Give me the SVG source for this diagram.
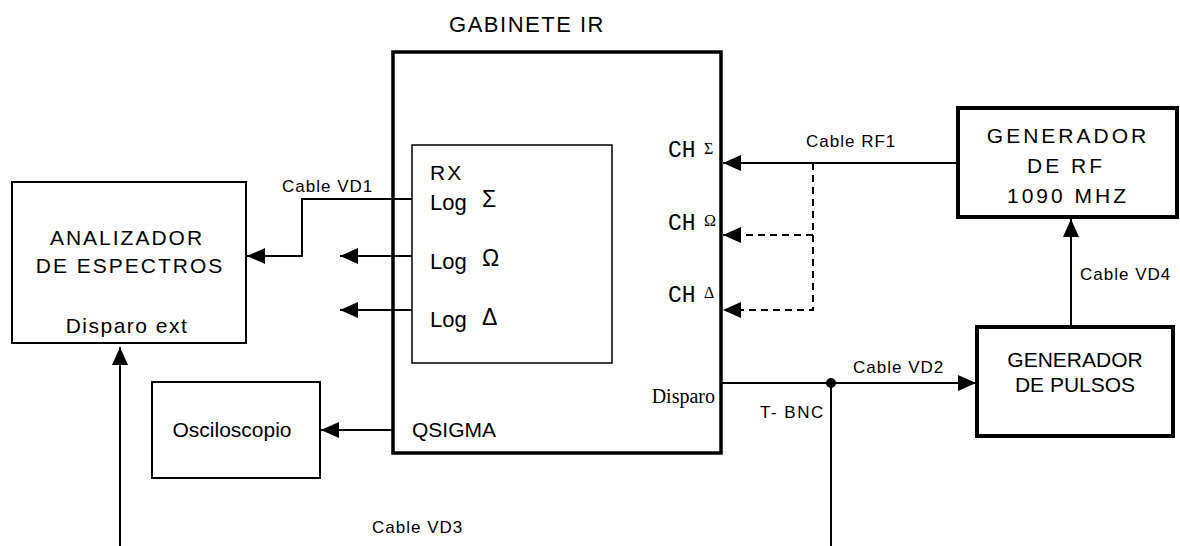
<svg xmlns="http://www.w3.org/2000/svg" width="1180" height="546" viewBox="0 0 1180 546">
<style>
.t{font-family:"Liberation Sans",Arial,sans-serif;fill:#000}
.big{font-size:21px}
.wide{letter-spacing:2px}
.cab{font-size:17px;letter-spacing:1px}
.mono{font-family:"Liberation Mono","Courier New",monospace;font-size:23px;fill:#000}
.ser{font-family:"Liberation Serif","Times New Roman",serif;fill:#000}
.box{fill:#fff;stroke:#000;stroke-width:2}
.thick{fill:#fff;stroke:#000;stroke-width:4}
.ln{fill:none;stroke:#000;stroke-width:2}
.dash{fill:none;stroke:#000;stroke-width:2;stroke-dasharray:7 5}
</style>
<defs>
<marker id="arr" viewBox="0 0 18 16" refX="18" refY="8" markerWidth="18" markerHeight="16" markerUnits="userSpaceOnUse" orient="auto">
<path d="M0,0 L18,8 L0,16 z" fill="#000"/>
</marker>
</defs>
<rect width="1180" height="546" fill="#fff"/>

<g id="gabinete">
<rect class="box" x="393" y="52" width="328" height="401" style="stroke-width:3.5"/>
<text class="t" x="527" y="32" font-size="22" text-anchor="middle" style="letter-spacing:1.5px">GABINETE IR</text>
<text class="mono" x="668" y="157">CH</text>
<text class="ser" x="704" y="154" font-size="16">Σ</text>
<text class="mono" x="668" y="230">CH</text>
<text class="ser" x="704" y="226" font-size="16">Ω</text>
<text class="mono" x="668" y="302">CH</text>
<text class="ser" x="704" y="298" font-size="16">Δ</text>
<text class="ser" x="715" y="403" font-size="20" text-anchor="end">Disparo</text>
<text class="t big" x="412" y="437">QSIGMA</text>
</g>

<g id="rx">
<rect class="box" x="412" y="145" width="200" height="218" style="stroke-width:1.5"/>
<text class="t big" x="430" y="180" style="letter-spacing:2px">RX</text>
<text class="t" x="430" y="210" font-size="22">Log</text>
<text class="t" x="482" y="207" font-size="23">Σ</text>
<text class="t" x="430" y="269" font-size="22">Log</text>
<text class="t" x="482" y="266" font-size="23">Ω</text>
<text class="t" x="430" y="327" font-size="22">Log</text>
<text class="t" x="482" y="325" font-size="23">Δ</text>
</g>

<g id="analizador">
<rect class="box" x="12" y="182" width="234" height="161"/>
<text class="t big wide" x="127" y="245" text-anchor="middle">ANALIZADOR</text>
<text class="t big wide" x="130" y="273" text-anchor="middle">DE ESPECTROS</text>
<text class="t big" x="127" y="333" text-anchor="middle" style="letter-spacing:1.5px">Disparo ext</text>
</g>

<g id="osciloscopio">
<rect class="box" x="152" y="382" width="168" height="96"/>
<text class="t big" x="232" y="437" text-anchor="middle">Osciloscopio</text>
</g>

<g id="generador-rf">
<rect class="thick" x="958" y="108" width="219" height="109"/>
<text class="t big" x="1068" y="143" text-anchor="middle" style="letter-spacing:3px">GENERADOR</text>
<text class="t big" x="1066" y="173" text-anchor="middle" style="letter-spacing:3px">DE RF</text>
<text class="t big" x="1068" y="203" text-anchor="middle" style="letter-spacing:3px">1090 MHZ</text>
</g>

<g id="generador-pulsos">
<rect class="thick" x="977" y="327" width="196" height="109"/>
<text class="t big" x="1075" y="367" text-anchor="middle">GENERADOR</text>
<text class="t big" x="1075" y="392" text-anchor="middle">DE PULSOS</text>
</g>

<g id="connectors">
<path class="ln" d="M412,199 H302 V256 H247" marker-end="url(#arr)"/>
<path class="ln" d="M412,256 H340" marker-end="url(#arr)"/>
<path class="ln" d="M412,310 H340" marker-end="url(#arr)"/>
<path class="ln" d="M392,430 H321" marker-end="url(#arr)"/>
<path class="ln" d="M120,546 V347" marker-end="url(#arr)"/>
<path class="ln" d="M958,163 H723" marker-end="url(#arr)"/>
<path class="dash" d="M813,163 V310 H723" marker-end="url(#arr)"/>
<path class="dash" d="M813,235 H723" marker-end="url(#arr)"/>
<path class="ln" d="M1071,327 V219" marker-end="url(#arr)"/>
<path class="ln" d="M721,383 H976" marker-end="url(#arr)"/>
<path class="ln" d="M831,383 V546"/>
<circle cx="831" cy="383" r="5" fill="#000"/>
<text class="t cab" x="282" y="192">Cable VD1</text>
<text class="t cab" x="806" y="147">Cable RF1</text>
<text class="t cab" x="853" y="373">Cable VD2</text>
<text class="t cab" x="372" y="533">Cable VD3</text>
<text class="t cab" x="1080" y="280">Cable VD4</text>
<text class="t cab" x="760" y="418" style="letter-spacing:1.5px">T- BNC</text>
</g>
</svg>
